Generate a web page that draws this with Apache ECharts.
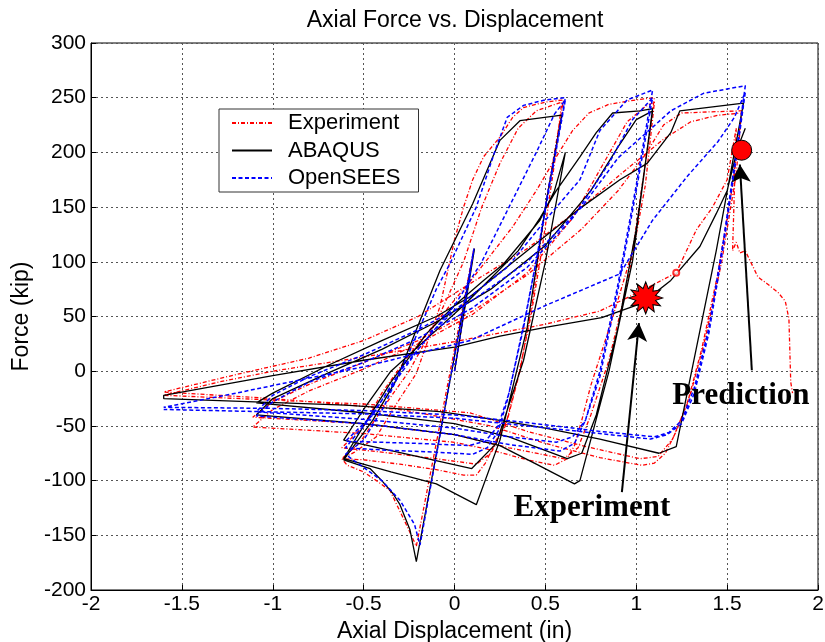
<!DOCTYPE html>
<html><head><meta charset="utf-8">
<script src="https://cdn.jsdelivr.net/npm/echarts@6/dist/echarts.min.js"></script>
<style>html,body{margin:0;padding:0;background:#fff}#c{width:825px;height:642px}</style>
</head><body><div id="c"></div>
<script>
// ---------- Experiment (red) ----------
const expElastic = [[0,0],[0.107,112],[-0.21,-160]];
const expPost0 = [[-0.26,-142],[-0.355,-109],[-0.43,-100],[-0.5,-92],[-0.59,-86],[-0.62,-80]];
const expCycle1 = [[-0.55,-74],[-0.43,-60],[-0.32,-30],[-0.21,-2],[-0.08,59],[0.0,120],[0.05,150],[0.10,175],[0.16,196],[0.25,214],[0.32,232],[0.38,241],[0.5,246],[0.6,248],
  [0.55,200],[0.5,150],[0.43,65],[0.36,0],[0.29,-45],[0.23,-63],[0.17,-84],[0.12,-95],[0.05,-95],
  [-0.1,-90],[-0.3,-85],[-0.5,-81],[-0.62,-80]];
const expCycle1b = [[-0.52,-65],[-0.4,-35],[-0.25,0],[-0.1,45],[0.05,100],[0.15,150],[0.25,190],[0.35,222],[0.45,238],[0.59,246],
  [0.55,190],[0.48,110],[0.42,50],[0.35,-5],[0.28,-50],[0.2,-75],[0.12,-85],
  [-0.1,-80],[-0.4,-74],[-0.62,-70]];
const expCycle2 = [[-0.5,-50],[-0.4,-20],[-0.25,15],[-0.05,55],[0.1,85],[0.32,132],[0.45,165],[0.56,196],[0.65,220],[0.74,236],[0.85,244],[1.0,248],[1.1,250],
  [1.05,190],[0.98,110],[0.87,49],[0.75,-13],[0.7,-45],[0.66,-68],[0.62,-80],[0.55,-86],
  [0.4,-81],[0.2,-72],[0,-65],[-0.5,-57],[-0.9,-53],[-1.11,-51]];
const expCycle2b = [[-1.0,-35],[-0.8,-18],[-0.5,2],[-0.2,25],[0.1,52],[0.4,90],[0.65,140],[0.82,190],[0.95,228],[1.05,242],[1.1,246],
  [1.05,170],[0.95,80],[0.85,10],[0.75,-40],[0.68,-70],[0.6,-80],
  [0.3,-70],[0,-58],[-0.5,-48],[-1.11,-42]];
const expCycle3 = [[-1.0,-28],[-0.8,-12],[-0.5,8],[-0.2,28],[0.1,55],[0.4,88],[0.7,130],[0.9,165],[1.05,198],[1.15,225],[1.25,236],[1.4,237],[1.58,238],
  [1.55,180],[1.47,100],[1.38,30],[1.3,-20],[1.22,-55],[1.16,-75],[1.1,-84],[1.03,-86],
  [0.8,-79],[0.5,-66],[0.2,-50],[-0.3,-35],[-1.0,-25],[-1.6,-19]];
const expCycle3b = [[-1.2,-3],[-0.8,12],[-0.5,28],[-0.2,50],[0.085,80],[0.4,112],[0.7,150],[0.95,185],[1.15,212],[1.3,228],[1.45,234],[1.58,236],
  [1.53,170],[1.45,90],[1.36,20],[1.28,-30],[1.2,-62],[1.12,-78],[1.02,-80],
  [0.7,-68],[0.4,-55],[0.085,-38],[-0.5,-30],[-1.6,-22]];
const expFinal = [[-1.3,-10],[-1.0,0],[-0.5,13],[0,27],[0.5,43],[0.8,55],[1.07,77],[1.22,90],[1.33,129],[1.42,150],[1.5,175],[1.55,222],
  [1.53,110],[1.55,118],[1.57,108],[1.6,110],[1.67,86],[1.72,80],[1.78,72],[1.82,64],[1.84,48],[1.85,-10],[1.86,-20]];
const expSmallMarker = [[1.22, 90]];

// ---------- ABAQUS (black) ----------
const abqElastic = [[0,0],[0.11,112],[-0.21,-174]];
const abqPost0 = [[-0.245,-145],[-0.3,-122],[-0.338,-112],[-0.4,-100],[-0.465,-89],[-0.61,-81]];
const abqCycle1 = [[-0.45,-45],[-0.32,-8],[-0.08,92],[0.10,153],[0.25,211],[0.36,229],[0.59,234],
  [0.5,150],[0.4,40],[0.25,-63],[0.12,-122],
  [-0.1,-103],[-0.35,-92],[-0.61,-80]];
const abqCycle1b = [[-0.5,-50],[-0.35,-10],[-0.15,35],[0.0,60],[0.16,83],[0.27,98],[0.47,138],[0.55,165],[0.61,200],
  [0.5,100],[0.38,10],[0.23,-66],[0.095,-89],
  [-0.2,-78],[-0.61,-63]];
const abqCycle2 = [[-0.5,-35],[-0.35,0],[-0.15,30],[0.05,60],[0.2,85],[0.35,110],[0.47,140],[0.56,165],[0.69,196],[0.78,218],[0.87,236],[1.02,238],[1.09,240],
  [0.98,101],[0.85,0],[0.69,-100],[0.66,-103],
  [0.45,-85],[0.25,-68],[0,-58],[-0.5,-48],[-1.09,-40]];
const abqCycle2b = [[-1.0,-25],[-0.7,-2],[-0.4,20],[-0.1,45],[0.2,75],[0.5,115],[0.75,165],[0.9,205],[1.0,230],[1.09,238],
  [1.0,130],[0.9,40],[0.78,-40],[0.7,-75],[0.62,-80],
  [0.3,-60],[0,-48],[-0.5,-38],[-1.09,-29]];
const abqCycle3 = [[-1.0,-20],[-0.7,5],[-0.4,28],[-0.1,50],[0.085,68],[0.4,110],[0.7,150],[0.91,175],[1.06,190],[1.19,218],[1.24,238],[1.59,245],
  [1.44,110],[1.22,-69],[1.125,-75],
  [0.8,-62],[0.5,-52],[0.25,-45],[-0.08,-37],[-0.6,-31],[-1.6,-25]];
const abqFinal = [[-1.6,-22],[-1.0,-4],[-0.5,10],[0,22],[0.25,32],[0.5,40],[0.81,49],[1.03,62],[1.19,83],[1.35,114],[1.44,144],[1.5,165],[1.56,205],[1.6,222]];

// ---------- OpenSEES (blue) ----------
const osElastic = [[0,0],[0.107,112],[-0.19,-159]];
const osPost0 = [[-0.22,-140],[-0.3,-118],[-0.4,-100],[-0.5,-88],[-0.6,-76]];
const osCycle1 = [[-0.5,-63],[-0.39,-33],[-0.245,19],[-0.1,75],[-0.02,100],[0.12,150],[0.22,200],[0.29,232],[0.38,243],[0.5,248],[0.61,250],
  [0.52,170],[0.45,101],[0.38,40],[0.29,-27],[0.24,-55],[0.18,-70],[0.1,-76],
  [-0.1,-74],[-0.4,-72],[-0.6,-70]];
const osCycle1b = [[-0.5,-50],[-0.35,-15],[-0.2,20],[0.0,60],[0.15,100],[0.3,150],[0.45,200],[0.55,235],[0.61,248],
  [0.53,175],[0.46,110],[0.39,50],[0.3,-20],[0.24,-50],[0.17,-64],[0.08,-68],
  [-0.2,-66],[-0.6,-64]];
const osCycle2 = [[-0.45,-40],[-0.3,0],[-0.1,40],[0.1,70],[0.29,95],[0.53,144],[0.69,175],[0.8,220],[0.95,248],[1.09,257],
  [1.0,170],[0.9,80],[0.8,0],[0.72,-45],[0.66,-66],[0.58,-73],
  [0.3,-67],[0,-58],[-0.5,-48],[-1.09,-41]];
const osCycle2b = [[-1.0,-28],[-0.8,-10],[-0.5,8],[-0.2,30],[0.1,58],[0.4,95],[0.65,140],[0.85,190],[0.98,230],[1.09,250],
  [1.0,165],[0.9,75],[0.8,-5],[0.72,-45],[0.65,-60],[0.56,-65],
  [0.3,-60],[0,-52],[-0.5,-44],[-1.09,-37]];
const osCycle3 = [[-1.0,-22],[-0.8,-5],[-0.5,15],[-0.2,38],[0.1,65],[0.4,100],[0.7,150],[0.9,195],[1.11,226],[1.19,238],[1.37,254],[1.6,261],
  [1.55,200],[1.48,120],[1.4,40],[1.32,-15],[1.25,-45],[1.18,-56],[1.1,-60],
  [0.8,-55],[0.4,-47],[0,-40],[-0.5,-36],[-1.0,-34],[-1.6,-33]];
const osCycle3b = [[-1.2,-20],[-0.5,4],[0.085,28],[0.5,60],[0.91,89],[1.09,138],[1.28,178],[1.45,210],[1.54,232],[1.6,255],
  [1.55,195],[1.48,115],[1.4,35],[1.32,-20],[1.25,-48],[1.17,-58],[1.08,-62],
  [0.8,-57],[0.4,-50],[0,-43],[-0.5,-39],[-1.6,-35]];

// ---------- annotations (data coordinates) ----------
const predictionPoint = [[1.58, 202]];
const experimentPoint = [[1.052, 67]];
const predictionArrow = [[1.636, 0.9], [1.570, 189]];
const experimentArrow = [[0.921, -110.6], [1.015, 44]];
const predictionLabel = [1.576, -23];
const experimentLabel = [0.756, -125];

const seriesNames = ['Experiment', 'ABAQUS', 'OpenSEES'];

const expData = [].concat(expElastic, expPost0, expCycle1, expCycle1b, expCycle2, expCycle2b, expCycle3, expCycle3b, expFinal);
const abqData = [].concat(abqElastic, abqPost0, abqCycle1, abqCycle1b, abqCycle2, abqCycle2b, abqCycle3, abqFinal);
const osData = [].concat(osElastic, osPost0, osCycle1, osCycle1b, osCycle2, osCycle2b, osCycle3, osCycle3b);

// 12-point star symbol
let sp = [];
for (let i = 0; i < 24; i++) {
  const a = i * Math.PI / 12 - Math.PI / 2;
  const r = (i % 2 === 0) ? 50 : 30;
  sp.push((i === 0 ? 'M' : 'L') + (50 + r * Math.cos(a)).toFixed(2) + ' ' + (50 + r * Math.sin(a)).toFixed(2));
}
const starPath = 'path://' + sp.join(' ') + ' Z';

const chart = echarts.init(document.getElementById('c'), null, {renderer: 'canvas'});
const FONT = 'Liberation Sans, Arial, Helvetica, sans-serif';
const SERIF = 'Liberation Serif, Times New Roman, serif';
const lineBase = {type: 'line', symbol: 'none', showSymbol: false, smooth: false, animation: false, clip: true};

chart.setOption({
  animation: false,
  backgroundColor: '#fff',
  title: {
    text: 'Axial Force vs. Displacement', left: 450, textAlign: 'center', top: 4,
    textStyle: {fontFamily: FONT, fontSize: 23, fontWeight: 'normal', color: '#000'}
  },
  grid: {left: 91, right: 7, top: 43, bottom: 52, show: true, borderColor: '#000', borderWidth: 1,
    backgroundColor: 'transparent', outerBoundsMode: 'none', containLabel: false},
  legend: {
    data: seriesNames, orient: 'vertical', left: 219, top: 109,
    padding: [3, 18, 3, 12], itemGap: 5.5, itemWidth: 40, itemHeight: 14,
    backgroundColor: '#fff', borderColor: '#333', borderWidth: 1,
    itemStyle: {opacity: 0},
    textStyle: {fontFamily: FONT, fontSize: 22, color: '#000', padding: [0, 0, 0, 11]}
  },
  xAxis: {
    type: 'value', min: -2, max: 2, interval: 0.5,
    name: 'Axial Displacement (in)', nameLocation: 'middle', nameGap: 25,
    nameTextStyle: {fontFamily: FONT, fontSize: 23, color: '#000'},
    axisLine: {show: true, onZero: false, lineStyle: {color: '#000', width: 1}},
    axisTick: {show: true, inside: true, length: 5, lineStyle: {color: '#000'}},
    axisLabel: {fontFamily: FONT, fontSize: 21, color: '#000', margin: 4, showMinLabel: true, showMaxLabel: true},
    splitLine: {show: true, lineStyle: {color: '#555', width: 1, type: [2, 3]}}
  },
  yAxis: {
    type: 'value', min: -200, max: 300, interval: 50,
    name: 'Force (kip)', nameLocation: 'middle', nameGap: 54,
    nameTextStyle: {fontFamily: FONT, fontSize: 23, color: '#000'},
    axisLine: {show: true, onZero: false, lineStyle: {color: '#000', width: 1}},
    axisTick: {show: true, inside: true, length: 5, lineStyle: {color: '#000'}},
    axisLabel: {fontFamily: FONT, fontSize: 21, color: '#000', margin: 5, showMinLabel: true, showMaxLabel: true},
    splitLine: {show: true, lineStyle: {color: '#555', width: 1, type: [2, 3]}}
  },
  series: [
    Object.assign({}, lineBase, {name: 'Experiment', data: expData, z: 3,
      itemStyle: {color: '#ff0000'},
      lineStyle: {color: '#ff0000', width: 1.3, type: [4, 2, 1, 2]}}),
    Object.assign({}, lineBase, {name: 'ABAQUS', data: abqData, z: 4,
      itemStyle: {color: '#000'},
      lineStyle: {color: '#000', width: 1.3, type: 'solid'}}),
    Object.assign({}, lineBase, {name: 'OpenSEES', data: osData, z: 5,
      itemStyle: {color: '#0000ff'},
      lineStyle: {color: '#0000ff', width: 1.5, type: [4, 2.5]}}),
    {name: 'expMarker', type: 'scatter', data: expSmallMarker, z: 6, symbol: 'emptyCircle', symbolSize: 6, silent: true,
      itemStyle: {color: '#ff0000', borderColor: '#ff0000', borderWidth: 1}},
    {name: 'arrows', type: 'line', data: [], z: 8, animation: false,
      markLine: {silent: true, animation: false, symbol: ['none', 'arrow'], symbolSize: [15, 18],
        lineStyle: {color: '#000', width: 2, type: 'solid'}, label: {show: false},
        emphasis: {disabled: true},
        data: [
          [{coord: predictionArrow[0]}, {coord: predictionArrow[1]}],
          [{coord: experimentArrow[0]}, {coord: experimentArrow[1]}]
        ]}},
    {name: 'predPt', type: 'scatter', data: predictionPoint, z: 9, symbol: 'circle', symbolSize: 20,
      itemStyle: {color: '#ff0000', borderColor: '#000', borderWidth: 1, opacity: 1}, silent: true},
    {name: 'expPt', type: 'scatter', data: experimentPoint, z: 9, symbol: starPath, symbolSize: [34, 32],
      itemStyle: {color: '#ff0000', borderColor: '#000', borderWidth: 1, opacity: 1}, silent: true}
  ]
});

// annotation texts placed at data coordinates through the chart's own conversion
const pPred = chart.convertToPixel({gridIndex: 0}, predictionLabel);
const pExp = chart.convertToPixel({gridIndex: 0}, experimentLabel);
const txtStyle = (t) => ({text: t, fill: '#000', font: 'bold 31px ' + SERIF, textAlign: 'center', textVerticalAlign: 'middle'});
chart.setOption({
  graphic: [
    {type: 'text', x: pPred[0], y: pPred[1], z: 100, silent: true, style: txtStyle('Prediction')},
    {type: 'text', x: pExp[0], y: pExp[1], z: 100, silent: true, style: txtStyle('Experiment')}
  ]
});
</script></body></html>
